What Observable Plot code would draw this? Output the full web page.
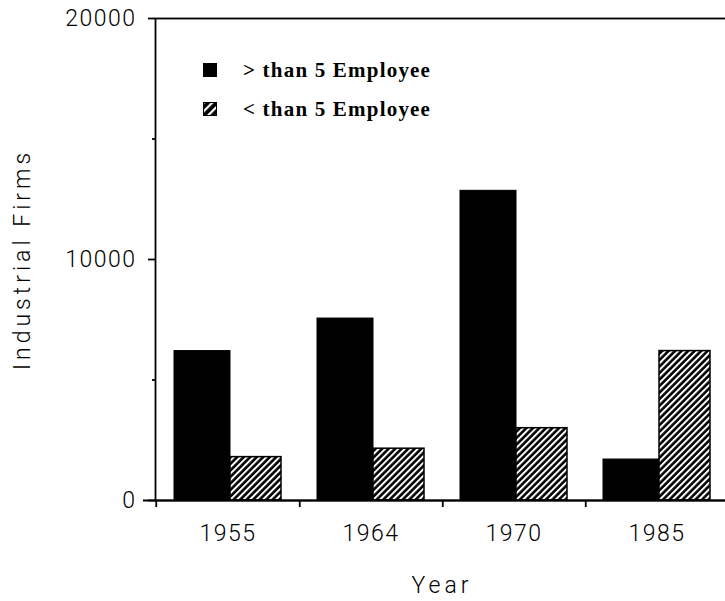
<!DOCTYPE html>
<html>
<head>
<meta charset="utf-8">
<script src="https://cdn.jsdelivr.net/npm/d3@7"></script>
<script src="https://cdn.jsdelivr.net/npm/@observablehq/plot@0.6"></script>
<style>
  html, body { margin: 0; padding: 0; background: #fff; }
  #wrap { position: relative; width: 725px; height: 601px; overflow: hidden; }
  #chart svg { overflow: visible; }
  #chart svg text { font-family: Roboto, "DejaVu Sans", sans-serif; font-weight: 300; letter-spacing: 1.5px; }
  #chart svg text.axis-title { letter-spacing: 4px; }
  #legend { position: absolute; left: 203px; top: 62px; font-family: "Liberation Serif", "DejaVu Serif", serif; font-weight: bold; font-size: 21px; letter-spacing: 1.2px; color: #000; }
  #legend .row { display: flex; align-items: center; height: 16px; margin-bottom: 23px; }
  #legend .sw { width: 14px; height: 14px; margin-right: 26px; flex: none; }
</style>
</head>
<body>
<svg width="0" height="0" style="position:absolute">
  <defs>
    <pattern id="hatch" patternUnits="userSpaceOnUse" width="4.6" height="4.6" patternTransform="rotate(45)">
      <rect width="4.6" height="4.6" fill="black"></rect>
      <rect x="0" y="0" width="2" height="4.6" fill="white"></rect>
    </pattern>
    <pattern id="hatchLegend" patternUnits="userSpaceOnUse" width="6" height="6" patternTransform="rotate(45)">
      <rect width="6" height="6" fill="black"></rect>
      <rect x="0" y="0" width="2.2" height="6" fill="white"></rect>
    </pattern>
  </defs>
</svg>
<div id="wrap">
  <div id="chart"></div>
  <div id="legend"></div>
</div>
<script>
// ---- data ----
const years = ["1955", "1964", "1970", "1985"];
const moreThan5 = [6200, 7550, 12850, 1700];
const lessThan5 = [1800, 2150, 3000, 6200];
const seriesNames = ["> than 5 Employee", "< than 5 Employee"];
const yMajorTicks = [0, 10000, 20000];
const yMinorTicks = [5000, 15000];
const yLabel = "Industrial Firms";
const xLabel = "Year";

const table = years.map((year, i) => ({year, more: moreThan5[i], less: lessThan5[i]}));

const chart = Plot.plot({
  width: 725,
  height: 601,
  marginLeft: 155,
  marginRight: -3,
  marginTop: 18,
  marginBottom: 101,
  style: {fontSize: "23px", color: "#000", background: "transparent"},
  x: {domain: years, paddingInner: 0.254, paddingOuter: 0.125, label: null},
  y: {domain: [0, 20000], label: null},
  marks: [
    Plot.barY(table, {x: "year", y: "more", fill: "black", stroke: "black", strokeWidth: 1, insetRight: 51}),
    Plot.barY(table, {x: "year", y: "less", fill: "url(#hatch)", stroke: "black", strokeWidth: 1.5, insetLeft: 56}),
    Plot.frame({stroke: "black", strokeWidth: 1.8}),
    Plot.ruleY([0], {stroke: "black", strokeWidth: 1.8, insetLeft: -12}),
    Plot.axisY(yMajorTicks, {tickSize: 7, tickPadding: 12, strokeWidth: 1.8, label: yLabel, labelArrow: "none", labelAnchor: "center", labelOffset: 142, tickFormat: d => String(d)}),
    Plot.axisY(yMinorTicks, {tickSize: 3, strokeWidth: 1.8, label: null, tickFormat: () => ""}),
    Plot.axisX({tickSize: 0, tickPadding: 24, label: xLabel, labelArrow: "none", labelAnchor: "center", labelOffset: 92}),
    Plot.axisX({tickSize: 7, strokeWidth: 1.8, tickFormat: () => "", label: null, dx: 71.75}),
    Plot.axisX([years[0]], {tickSize: 7, strokeWidth: 1.8, tickFormat: () => "", label: null, dx: -71.75})
  ]
});
document.getElementById("chart").appendChild(chart);
chart.querySelectorAll("text").forEach(t => {
  const s = t.textContent.trim();
  if (s === yLabel || s === xLabel) t.classList.add("axis-title");
});

// legend
const legend = document.getElementById("legend");
const fills = ["black", "url(#hatchLegend)"];
seriesNames.forEach((name, i) => {
  const row = document.createElement("div");
  row.className = "row";
  row.innerHTML = `<svg class="sw" width="14" height="14"><rect x="0.5" y="0.5" width="13" height="13" fill="${fills[i]}" stroke="black"></rect></svg><span></span>`;
  row.querySelector("span").textContent = name;
  legend.appendChild(row);
});
</script>
</body>
</html>
